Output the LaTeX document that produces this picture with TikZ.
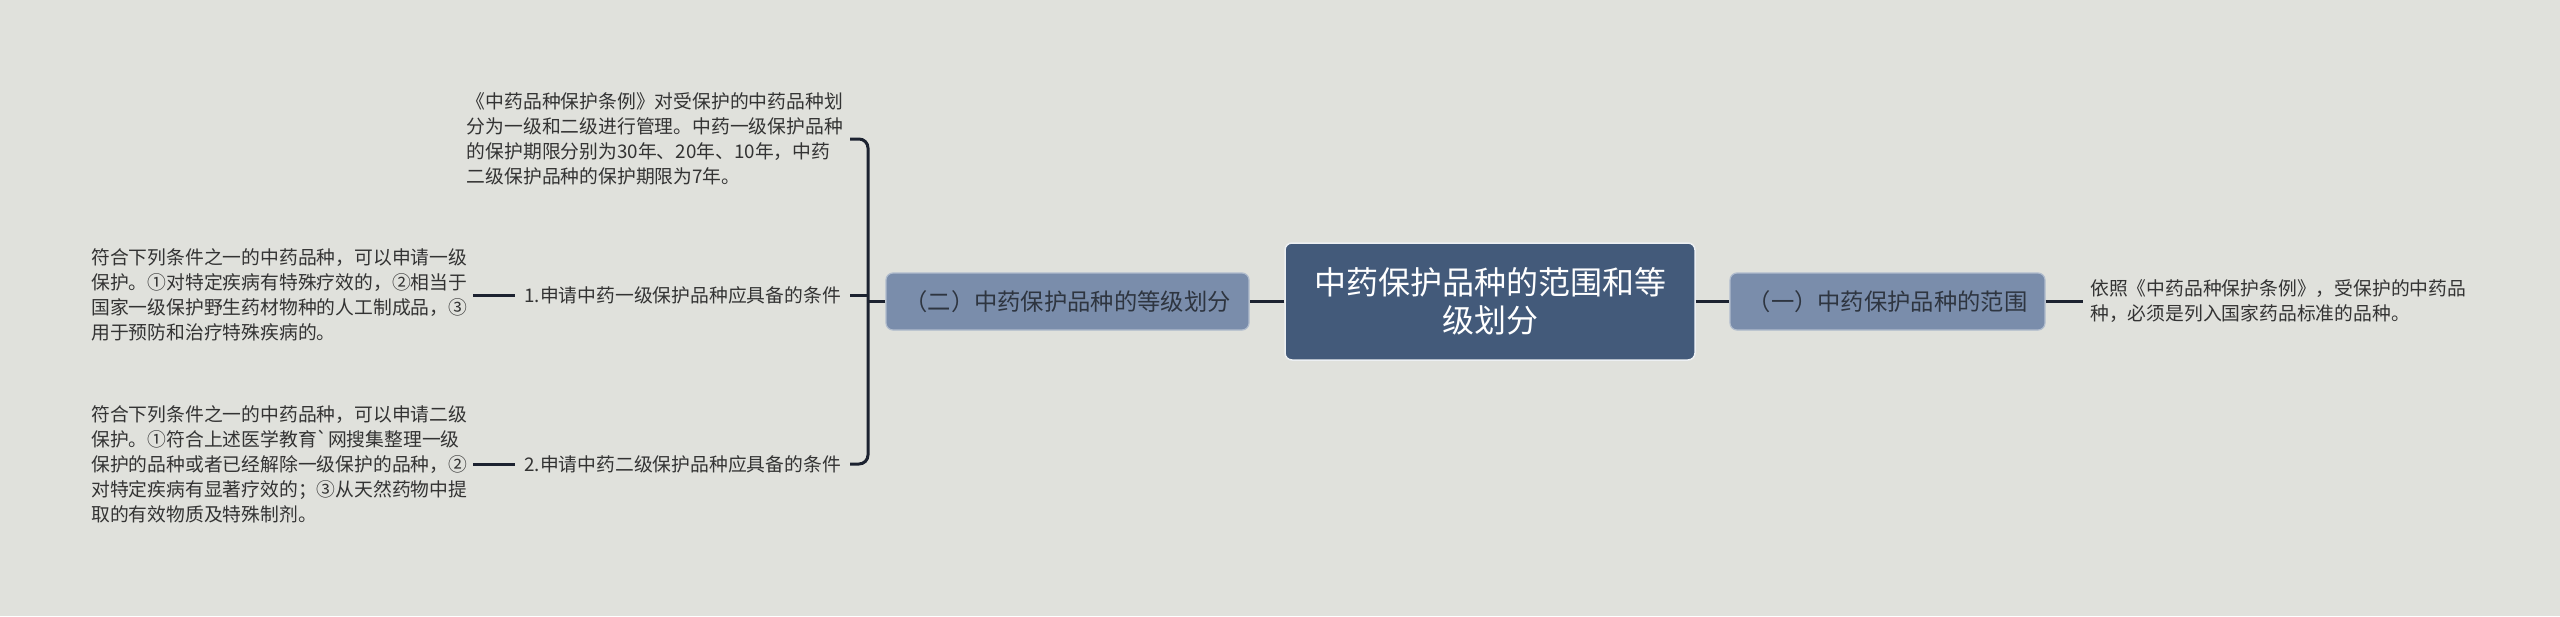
\documentclass[tikz,border=0pt]{standalone}
\usepackage{fontspec}
\setmainfont{Noto Sans CJK SC}[Ligatures=TeXOff]
\definecolor{bgc}{HTML}{E0E1DC}
\definecolor{rootc}{HTML}{435A7A}
\definecolor{rootb}{HTML}{EDF0F3}
\definecolor{subc}{HTML}{7A8DAB}
\definecolor{subb}{HTML}{B0BCCD}
\definecolor{linec}{HTML}{1C2230}
\definecolor{txtc}{HTML}{333333}
\definecolor{subtxt}{HTML}{2E3540}
\begin{document}
\begin{tikzpicture}[x=1pt,y=-1pt,
  conn/.style={draw=linec,line width=3pt},
  rootbox/.style={draw=rootb,line width=1.5pt,fill=rootc,rounded corners=7pt,
    minimum width=410pt,minimum height=117pt,text=white,align=center,
    font=\fontsize{32}{38}\selectfont,inner sep=0pt},
  subbox/.style={draw=subb,line width=1.2pt,fill=subc,rounded corners=7pt,
    minimum height=57pt,text=subtxt,font=\fontsize{23.3}{28}\selectfont,inner sep=0pt},
  leaf/.style={align=left,text=txtc,font=\fontsize{18.8}{25}\selectfont,inner xsep=6pt,inner ysep=0pt},
  lbl/.style={text=txtc,font=\fontsize{18.8}{25}\selectfont,inner xsep=9pt,inner ysep=0pt}]
\useasboundingbox[fill=bgc] (0,0) rectangle (2560,616);

\node[rootbox] (root) at (1490,301.5) {中药保护品种的范围和等\\级划分};
\node[subbox,minimum width=363pt] (lsub) at (1067.5,301.5) {（二）中药保护品种的等级划分};
\node[subbox,minimum width=315pt] (rsub) at (1887.5,301.5) {（一）中药保护品种的范围};

\node[leaf,anchor=west,inner xsep=7pt] (rleaf) at (2083,301.5) {依照《中药品种保护条例》，受保护的中药品\\种，必须是列入国家药品标准的品种。};

\coordinate (bx) at (868,301.5);

\node[leaf,anchor=east,inner xsep=7pt] (top) at (850,139) {《中药品种保护条例》对受保护的中药品种划\\分为一级和二级进行管理。中药一级保护品种\\的保护期限分别为30年、20年、10年，中药\\二级保护品种的保护期限为7年。};

\node[lbl,anchor=east] (l1) at (850,295) {1.申请中药一级保护品种应具备的条件};
\node[lbl,anchor=east] (l2) at (850,464) {2.申请中药二级保护品种应具备的条件};

\node[leaf,anchor=west] (t1) at (85,295) {符合下列条件之一的中药品种，可以申请一级\\保护。①对特定疾病有特殊疗效的，②相当于\\国家一级保护野生药材物种的人工制成品，③\\用于预防和治疗特殊疾病的。};
\node[leaf,anchor=west] (t2) at (85,464) {符合下列条件之一的中药品种，可以申请二级\\保护。①符合上述医学教育`网搜集整理一级\\保护的品种或者已经解除一级保护的品种，②\\对特定疾病有显著疗效的；③从天然药物中提\\取的有效物质及特殊制剂。};

\draw[conn] (root.west) -- (lsub.east);
\draw[conn] (root.east) -- (rsub.west);
\draw[conn] (rsub.east) -- (rleaf.west);
\draw[conn] (lsub.west) -- (bx);
\draw[conn,rounded corners=9pt] (top.east) -| (bx) |- (l2.east);
\draw[conn] (l1.east) -- (l1.east -| bx);
\draw[conn] (t1.east) -- (l1.west);
\draw[conn] (t2.east) -- (l2.west);
\end{tikzpicture}
\end{document}
